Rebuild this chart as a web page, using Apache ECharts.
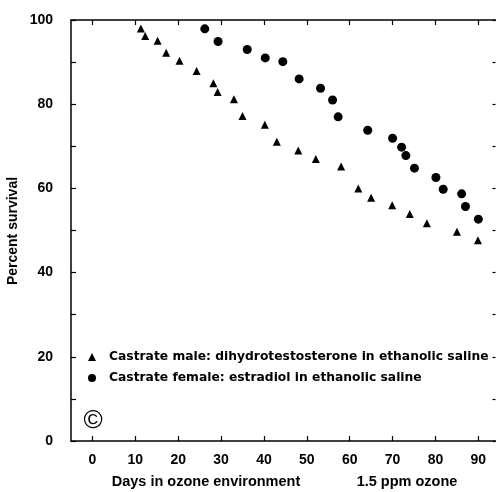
<!DOCTYPE html>
<html>
<head>
<meta charset="utf-8">
<script src="https://cdn.jsdelivr.net/npm/echarts@6/dist/echarts.min.js"></script>
<style>
html,body{margin:0;padding:0;background:#fff;}
#c{width:496px;height:492px;}
</style>
</head>
<body>
<div id="c"></div>
<script>
var maleName = 'Castrate male: dihydrotestosterone in ethanolic saline';
var femaleName = 'Castrate female: estradiol in ethanolic saline';
var maleX = [11.3,12.3,15.2,17.2,20.3,24.3,28.2,29.2,33.0,35.0,40.2,43.0,48.0,52.1,58.0,62.0,65.0,69.9,74.0,78.0,85.0,89.9];
var maleY = [98.0,96.2,95.1,92.2,90.3,87.9,85.0,82.9,81.2,77.2,75.1,71.1,69.0,67.0,65.2,60.0,57.8,56.0,53.9,51.7,49.7,47.7];
var femaleX = [26.2,29.3,36.1,40.3,44.4,48.2,53.2,56.0,57.3,64.2,70.0,72.1,73.1,75.1,80.1,81.8,86.1,87.0,90.0];
var femaleY = [97.9,94.9,93.0,91.0,90.1,86.0,83.8,81.0,77.0,73.8,71.9,69.8,67.8,64.8,62.6,59.8,58.7,55.7,52.7];
var xTicks = [0,10,20,30,40,50,60,70,80,90];
var yLabels = [0,20,40,60,80,100];
var xTitle = 'Days in ozone environment';
var xNote = '1.5 ppm ozone';
var yTitle = 'Percent survival';
var mark = '\u00A9';

function pairs(xs, ys){ return xs.map(function(x,i){ return [x, ys[i]]; }); }

var FONT = 'Liberation Sans';
var chart = echarts.init(document.getElementById('c'), null, {renderer:'canvas'});
chart.setOption({
  animation:false,
  backgroundColor:'#fff',
  grid:{left:71, right:0.5, top:20, bottom:51},
  legend:{
    orient:'vertical', left:83, top:346, itemWidth:8, itemHeight:8, itemGap:9,
    textStyle:{color:'#000', fontFamily:'DejaVu Sans', fontWeight:'bold', fontSize:12.3, padding:[0,0,0,8]},
    data:[{name:maleName, icon:'triangle'},{name:femaleName, icon:'circle'}]
  },
  xAxis:[{
    type:'value', position:'bottom', min:-5, max:94,
    splitLine:{show:false},
    axisLine:{onZero:false, lineStyle:{color:'#000', width:1.5}},
    axisTick:{inside:true, length:5, lineStyle:{color:'#000', width:1.2}, customValues:xTicks},
    axisLabel:{customValues:xTicks, color:'#000', fontFamily:FONT, fontWeight:'bold', fontSize:14, margin:12}
  },{
    type:'value', position:'top', min:-5, max:94,
    splitLine:{show:false},
    axisLine:{onZero:false, lineStyle:{color:'#000', width:1.5}},
    axisTick:{inside:true, length:5, lineStyle:{color:'#000', width:1.2}, customValues:xTicks},
    axisLabel:{show:false}
  }],
  yAxis:[{
    type:'value', position:'left', min:0, max:100, interval:10,
    splitLine:{show:false},
    axisLine:{onZero:false, lineStyle:{color:'#000', width:1.5}},
    axisTick:{inside:true, length:5, lineStyle:{color:'#000', width:1.2}},
    axisLabel:{customValues:yLabels, color:'#000', fontFamily:FONT, fontWeight:'bold', fontSize:14, margin:18}
  },{
    type:'value', position:'right', min:0, max:100, interval:10,
    splitLine:{show:false},
    axisLine:{show:false, onZero:false},
    axisTick:{show:true, inside:true, length:3, lineStyle:{color:'#000', width:1.2}},
    axisLabel:{show:false}
  }],
  series:[{
    name:maleName, type:'scatter', symbol:'triangle', symbolSize:8,
    itemStyle:{color:'#000', opacity:1}, data:pairs(maleX, maleY)
  },{
    name:femaleName, type:'scatter', symbol:'circle', symbolSize:9,
    itemStyle:{color:'#000', opacity:1}, data:pairs(femaleX, femaleY)
  }],
  graphic:[
    {type:'text', x:13, y:231, rotation:Math.PI/2, style:{text:yTitle, fill:'#000', font:'bold 14px "Liberation Sans"', textAlign:'center', textVerticalAlign:'middle'}},
    {type:'text', x:206, y:482, style:{text:xTitle, fill:'#000', font:'bold 14.5px "Liberation Sans"', textAlign:'center', textVerticalAlign:'middle'}},
    {type:'text', x:407, y:482, style:{text:xNote, fill:'#000', font:'bold 14.5px "Liberation Sans"', textAlign:'center', textVerticalAlign:'middle'}},
    {type:'text', x:93, y:421, style:{text:mark, fill:'#000', font:'26px "Liberation Sans"', textAlign:'center', textVerticalAlign:'middle'}}
  ]
});
</script>
</body>
</html>
